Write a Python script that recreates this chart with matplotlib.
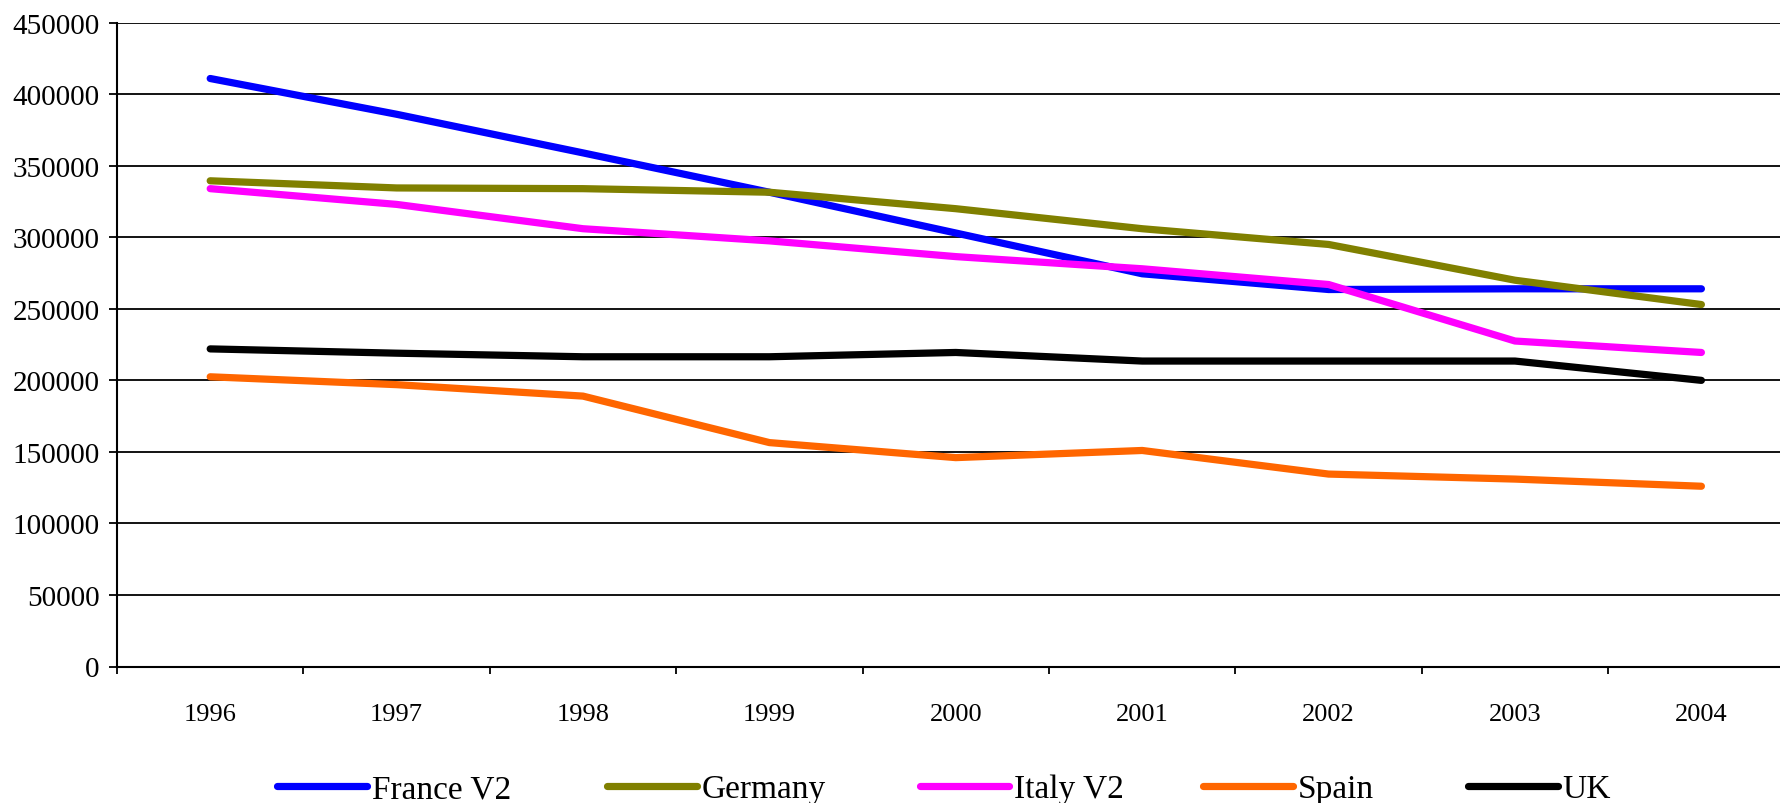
import matplotlib
matplotlib.use("Agg")
import matplotlib.pyplot as plt
import numpy as np

years = ["1996", "1997", "1998", "1999", "2000", "2001", "2002", "2003", "2004"]
france_v2 = [411000, 386000, 359000, 331500, 303000, 274500, 263500, 264000, 264000]
germany = [339500, 334500, 334000, 331500, 320000, 306000, 295000, 270000, 253000]
italy_v2 = [334000, 323000, 306000, 297500, 286500, 278000, 267000, 227500, 219500]
spain = [202500, 197000, 189000, 156500, 146000, 151000, 134500, 131000, 126000]
uk = [222000, 219000, 216500, 216500, 219500, 213500, 213500, 213500, 200000]

series = [
    ("France V2", france_v2, "#0000FF"),
    ("Germany", germany, "#808000"),
    ("Italy V2", italy_v2, "#FF00FF"),
    ("Spain", spain, "#FF6600"),
    ("UK", uk, "#000000"),
]

plt.rcParams['font.family'] = ['Liberation Serif', 'DejaVu Serif']

W, H = 1780, 804
fig = plt.figure(figsize=(W / 100, H / 100), dpi=100)
left, right = 117, 1794.6
bottom, top = 667.5, 23.7
ax = fig.add_axes([left / W, (H - bottom) / H, (right - left) / W, (bottom - top) / H])

x = np.arange(len(years))
lines = []
for name, vals, col in series:
    ln, = ax.plot(x, vals, color=col, lw=5.2, label=name,
                  solid_capstyle='round', solid_joinstyle='round')
    lines.append(ln)

ax.set_xlim(-0.5, len(years) - 0.5)
ax.set_ylim(0, 450000)
ax.set_yticks(np.arange(0, 450001, 50000))
ax.set_yticklabels([str(v) for v in range(0, 450001, 50000)])
ax.set_xticks(x)
ax.set_xticklabels(years)
ax.set_xticks(np.arange(-0.5, len(years), 1), minor=True)
ax.tick_params(axis='x', which='major', length=0, pad=26.5, labelsize=19)
ax.tick_params(axis='x', which='minor', length=5, width=1.3, direction='out')
ax.tick_params(axis='y', length=6, width=1.3, direction='out', pad=6.5, labelsize=21)
ax.yaxis.grid(True, color='black', lw=1.3)
ax.set_axisbelow(True)
for s in ['top', 'right']:
    ax.spines[s].set_visible(False)
for s in ['left', 'bottom']:
    ax.spines[s].set_linewidth(1.5)
    ax.spines[s].set_color('black')

# legend entries placed individually (Excel-style spacing)
legend_x = [277.3, 607.3, 920.0, 1203.3, 1468.3]
for ln, lx in zip(lines, legend_x):
    leg = fig.legend([ln], [ln.get_label()], loc='center left',
                     bbox_to_anchor=(lx / W, 1 - 790 / H), frameon=False,
                     fontsize=24, handlelength=2.68, handletextpad=0.15,
                     borderaxespad=0, borderpad=0)

fig.savefig("out.png", dpi=100)
